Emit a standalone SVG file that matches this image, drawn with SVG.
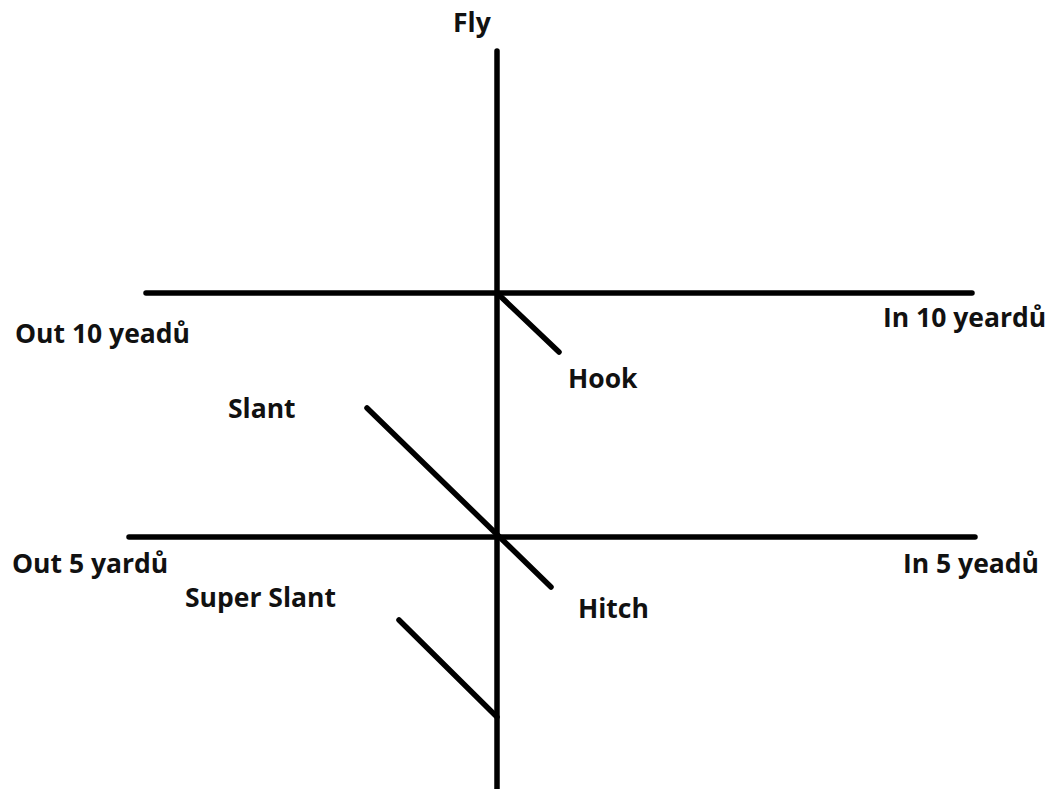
<svg xmlns="http://www.w3.org/2000/svg" width="1050" height="789" viewBox="0 0 1050 789">
<style>
.ln{stroke:#000;stroke-width:5.5;stroke-linecap:round;fill:none}
.lb{font-family:"Open Sans","Noto Sans",sans-serif;font-weight:bold;font-size:26.5px;fill:#111}
</style>
<rect width="1050" height="789" fill="#fff"/>
<g id="connectors">
<line class="ln" x1="497" y1="51" x2="497" y2="792"/>
<line class="ln" x1="146" y1="293" x2="972" y2="293"/>
<line class="ln" x1="129" y1="537" x2="975" y2="537"/>
<line class="ln" x1="497" y1="293" x2="559" y2="352"/>
<line class="ln" x1="367" y1="408" x2="551" y2="587"/>
<line class="ln" x1="399" y1="620" x2="497" y2="717"/>
</g>
<g id="fly"><text class="lb" x="453" y="32">Fly</text></g>
<g id="out10"><text class="lb" x="15" y="343">Out 10 yeadů</text></g>
<g id="in10"><text class="lb" x="883" y="327">In 10 yeardů</text></g>
<g id="hook"><text class="lb" x="568" y="388">Hook</text></g>
<g id="slant"><text class="lb" x="228" y="418">Slant</text></g>
<g id="out5"><text class="lb" x="12" y="573">Out 5 yardů</text></g>
<g id="superslant"><text class="lb" x="185" y="607">Super Slant</text></g>
<g id="hitch"><text class="lb" x="578" y="618">Hitch</text></g>
<g id="in5"><text class="lb" x="903" y="573">In 5 yeadů</text></g>
</svg>
